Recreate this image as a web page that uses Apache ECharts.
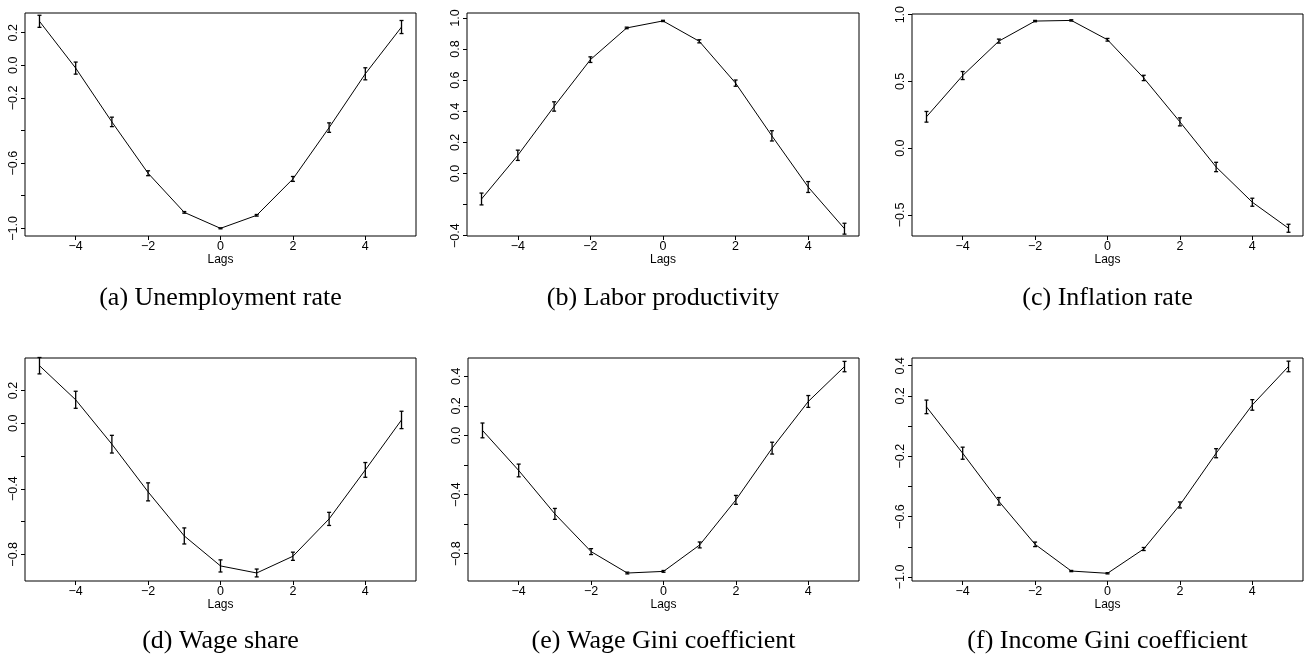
<!DOCTYPE html>
<html><head><meta charset="utf-8">
<script src="https://cdn.jsdelivr.net/npm/echarts@6/dist/echarts.min.js"></script>
<style>html,body{margin:0;padding:0;background:#fff}#c{width:1306px;height:665px}</style>
</head><body><div id="c"></div>
<script>
// ---- data ----
const lags = [-5,-4,-3,-2,-1,0,1,2,3,4,5];
const xTicks = [-4,-2,0,2,4];

const unempMean = [0.270,-0.017,-0.347,-0.662,-0.902,-1.000,-0.920,-0.697,-0.382,-0.052,0.235];
const unempErr  = [0.037,0.037,0.029,0.015,0.005,0.003,0.005,0.015,0.029,0.037,0.040];
const prodMean  = [-0.164,0.117,0.431,0.732,0.936,0.981,0.850,0.581,0.242,-0.087,-0.355];
const prodErr   = [0.038,0.033,0.030,0.018,0.005,0.004,0.010,0.020,0.033,0.035,0.035];
const inflMean  = [0.235,0.544,0.802,0.952,0.957,0.812,0.526,0.197,-0.141,-0.405,-0.600];
const inflErr   = [0.040,0.030,0.015,0.005,0.005,0.010,0.020,0.030,0.035,0.030,0.030];
const wageMean  = [0.351,0.143,-0.128,-0.419,-0.688,-0.871,-0.914,-0.812,-0.584,-0.285,0.020];
const wageErr   = [0.050,0.052,0.054,0.055,0.049,0.037,0.024,0.025,0.040,0.045,0.053];
const wginiMean = [0.034,-0.237,-0.531,-0.786,-0.931,-0.920,-0.741,-0.436,-0.086,0.230,0.466];
const wginiErr  = [0.050,0.043,0.037,0.020,0.006,0.006,0.020,0.030,0.040,0.040,0.035];
const iginiMean = [0.127,-0.180,-0.499,-0.784,-0.961,-0.976,-0.815,-0.523,-0.180,0.140,0.395];
const iginiErr  = [0.045,0.040,0.025,0.015,0.004,0.004,0.010,0.020,0.030,0.035,0.035];

const captions = ['(a) Unemployment rate','(b) Labor productivity','(c) Inflation rate',
                  '(d) Wage share','(e) Wage Gini coefficient','(f) Income Gini coefficient'];

const yTicksA = [-1.0,-0.8,-0.6,-0.4,-0.2,0.0,0.2];  const yLabelsA = [-1.0,-0.6,-0.2,0.0,0.2];
const yTicksB = [-0.4,-0.2,0.0,0.2,0.4,0.6,0.8,1.0]; const yLabelsB = [-0.4,0.0,0.2,0.4,0.6,0.8,1.0];
const yTicksC = [-0.5,0.0,0.5,1.0];                  const yLabelsC = [-0.5,0.0,0.5,1.0];
const yTicksD = [-0.8,-0.6,-0.4,-0.2,0.0,0.2];       const yLabelsD = [-0.8,-0.4,0.0,0.2];
const yTicksE = [-0.8,-0.6,-0.4,-0.2,0.0,0.2,0.4];   const yLabelsE = [-0.8,-0.4,0.0,0.2,0.4];
const yTicksF = [-1.0,-0.8,-0.6,-0.4,-0.2,0.0,0.2,0.4]; const yLabelsF = [-1.0,-0.6,-0.2,0.2,0.4];

// ---- layout ----
const panels = [
  {mean: unempMean, err: unempErr, yt: yTicksA, yl: yLabelsA, ymin:-1.047, ymax:0.321, g:{left:25, top:13, width:391, height:223}},
  {mean: prodMean,  err: prodErr,  yt: yTicksB, yl: yLabelsB, ymin:-0.402, ymax:1.032, g:{left:467, top:13, width:392, height:223}},
  {mean: inflMean,  err: inflErr,  yt: yTicksC, yl: yLabelsC, ymin:-0.658, ymax:1.005, g:{left:912, top:14, width:391, height:222}},
  {mean: wageMean,  err: wageErr,  yt: yTicksD, yl: yLabelsD, ymin:-0.963, ymax:0.398, g:{left:25, top:358, width:391, height:223}},
  {mean: wginiMean, err: wginiErr, yt: yTicksE, yl: yLabelsE, ymin:-0.985, ymax:0.524, g:{left:468, top:358, width:391, height:223}},
  {mean: iginiMean, err: iginiErr, yt: yTicksF, yl: yLabelsF, ymin:-1.027, ymax:0.451, g:{left:912, top:358, width:391, height:223}}
];

const fmtMinus = s => String(s).replace('-', '\u2212');
const grid = [], xAxis = [], yAxis = [], series = [], graphic = [];
panels.forEach((p, i) => {
  grid.push(Object.assign({show:true, borderColor:'#000', borderWidth:1, containLabel:false}, p.g));
  xAxis.push({
    type:'value', gridIndex:i, min:-5.4, max:5.4, position:'bottom',
    axisLine:{show:false, onZero:false}, splitLine:{show:false},
    axisTick:{show:true, length:4, customValues:xTicks, lineStyle:{color:'#000'}},
    axisLabel:{customValues:xTicks, margin:4, fontSize:12.5, color:'#000', fontFamily:'Liberation Sans',
               formatter: v => fmtMinus(v)},
    name:'Lags', nameLocation:'middle', nameGap:18,
    nameTextStyle:{fontSize:12, color:'#000', fontFamily:'Liberation Sans'}
  });
  yAxis.push({
    type:'value', gridIndex:i, min:p.ymin, max:p.ymax, position:'left',
    axisLine:{show:false, onZero:false}, splitLine:{show:false},
    axisTick:{show:true, length:4, customValues:p.yt, lineStyle:{color:'#000'}},
    axisLabel:{customValues:p.yl, rotate:90, margin:5, fontSize:12.5, color:'#000', fontFamily:'Liberation Sans',
               formatter: v => fmtMinus(Number(v).toFixed(1))}
  });
  series.push({
    type:'line', xAxisIndex:i, yAxisIndex:i, showSymbol:false, symbol:'none',
    lineStyle:{color:'#000', width:1}, animation:false,
    data: lags.map((x, k) => [x, p.mean[k]])
  });
  series.push({
    type:'custom', xAxisIndex:i, yAxisIndex:i, animation:false,
    data: lags.map((x, k) => [x, p.mean[k] - p.err[k], p.mean[k] + p.err[k]]),
    renderItem: (params, api) => {
      const lo = api.coord([api.value(0), api.value(1)]);
      const hi = api.coord([api.value(0), api.value(2)]);
      const w = 2;
      const st = {stroke:'#000', lineWidth:1.3};
      return {type:'group', children:[
        {type:'line', shape:{x1:lo[0], y1:lo[1], x2:hi[0], y2:hi[1]}, style:st},
        {type:'line', shape:{x1:lo[0]-w, y1:lo[1], x2:lo[0]+w, y2:lo[1]}, style:st},
        {type:'line', shape:{x1:hi[0]-w, y1:hi[1], x2:hi[0]+w, y2:hi[1]}, style:st}
      ]};
    }
  });
  graphic.push({
    type:'text', x: p.g.left + p.g.width/2, y: (i < 3 ? 298 : 641),
    style:{text: captions[i], textAlign:'center', textVerticalAlign:'middle',
           font:'26px "Liberation Serif"', fill:'#000'}
  });
});

const chart = echarts.init(document.getElementById('c'), null, {renderer:'canvas'});
chart.setOption({animation:false, backgroundColor:'#fff', grid, xAxis, yAxis, series, graphic});
</script></body></html>
